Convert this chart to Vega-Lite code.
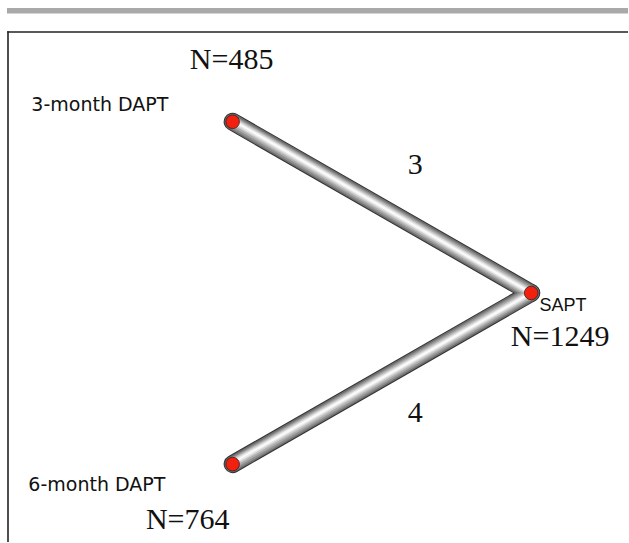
{
  "$schema": "https://vega.github.io/schema/vega-lite/v6.json",
  "width": 629,
  "height": 543,
  "padding": 0,
  "autosize": {"type": "fit", "contains": "padding"},
  "background": "white",
  "config": {"view": {"stroke": null}},
  "datasets": {
    "nodes": [
      {"node": "3-month DAPT", "x": 0, "y": 1, "n": 485},
      {"node": "SAPT", "x": 1, "y": 0, "n": 1249},
      {"node": "6-month DAPT", "x": 0, "y": -1, "n": 764}
    ],
    "edges": [
      {"from": "3-month DAPT", "to": "SAPT", "x": 0, "y": 1, "x2": 1, "y2": 0, "studies": 3},
      {"from": "6-month DAPT", "to": "SAPT", "x": 0, "y": -1, "x2": 1, "y2": 0, "studies": 4}
    ],
    "labels": [
      {"text": "N=485", "kind": "serif", "x": -0.0033, "y": 1.3615},
      {"text": "N=1249", "kind": "serif", "x": 1.097, "y": -0.2595},
      {"text": "N=764", "kind": "serif", "x": -0.1505, "y": -1.3265},
      {"text": "3", "kind": "serif", "x": 0.612, "y": 0.7493},
      {"text": "4", "kind": "serif", "x": 0.612, "y": -0.7026},
      {"text": "3-month DAPT", "kind": "sans", "x": -0.4448, "y": 1.0991},
      {"text": "6-month DAPT", "kind": "sans", "x": -0.4548, "y": -1.1224},
      {"text": "SAPT", "kind": "small", "x": 1.107, "y": -0.0787}
    ],
    "frame": [
      {"side": "top", "x": -0.7552, "y": 1.5248, "x2": 1.3244, "y2": 1.5248},
      {"side": "left", "x": -0.7525, "y": 1.5295, "x2": -0.7525, "y2": -1.4548}
    ]
  },
  "encoding": {
    "x": {"type": "quantitative", "scale": {"domain": [-0.7793, 1.3244], "nice": false, "zero": false}, "axis": null},
    "y": {"type": "quantitative", "scale": {"domain": [-1.4548, 1.7114], "nice": false, "zero": false}, "axis": null}
  },
  "layer": [
    {
      "data": {"values": [{"part": "header bar"}]},
      "mark": {"type": "rect", "fill": "#a9a9a9"},
      "encoding": {
        "x": {"datum": -0.7559, "type": "quantitative"},
        "x2": {"datum": 1.3244},
        "y": {"datum": 1.6647, "type": "quantitative"},
        "y2": {"datum": 1.6327}
      }
    },
    {
      "data": {"name": "frame"},
      "mark": {"type": "rule", "stroke": "#222222", "strokeWidth": 1.6, "strokeCap": "butt"},
      "encoding": {
        "x": {"field": "x", "type": "quantitative"},
        "y": {"field": "y", "type": "quantitative"},
        "x2": {"field": "x2"},
        "y2": {"field": "y2"}
      }
    },
    {
      "data": {"name": "edges"},
      "layer": [
        {"mark": {"type": "rule", "strokeWidth": 18, "color": "#333333", "strokeCap": "round"}, "encoding": {"x": {"field": "x", "type": "quantitative"}, "y": {"field": "y", "type": "quantitative"}, "x2": {"field": "x2"}, "y2": {"field": "y2"}}},
        {"mark": {"type": "rule", "strokeWidth": 16, "color": "#6e6e6e", "strokeCap": "round"}, "encoding": {"x": {"field": "x", "type": "quantitative"}, "y": {"field": "y", "type": "quantitative"}, "x2": {"field": "x2"}, "y2": {"field": "y2"}}},
        {"mark": {"type": "rule", "strokeWidth": 13, "color": "#8e8e8e", "strokeCap": "round"}, "encoding": {"x": {"field": "x", "type": "quantitative"}, "y": {"field": "y", "type": "quantitative"}, "x2": {"field": "x2"}, "y2": {"field": "y2"}}},
        {"mark": {"type": "rule", "strokeWidth": 10, "color": "#adadad", "strokeCap": "round", "yOffset": -0.5}, "encoding": {"x": {"field": "x", "type": "quantitative"}, "y": {"field": "y", "type": "quantitative"}, "x2": {"field": "x2"}, "y2": {"field": "y2"}}},
        {"mark": {"type": "rule", "strokeWidth": 7, "color": "#cbcbcb", "strokeCap": "round", "yOffset": -1}, "encoding": {"x": {"field": "x", "type": "quantitative"}, "y": {"field": "y", "type": "quantitative"}, "x2": {"field": "x2"}, "y2": {"field": "y2"}}},
        {"mark": {"type": "rule", "strokeWidth": 4.5, "color": "#e6e6e6", "strokeCap": "round", "yOffset": -1.2}, "encoding": {"x": {"field": "x", "type": "quantitative"}, "y": {"field": "y", "type": "quantitative"}, "x2": {"field": "x2"}, "y2": {"field": "y2"}}},
        {"mark": {"type": "rule", "strokeWidth": 2, "color": "#fafafa", "strokeCap": "round", "yOffset": -1.4}, "encoding": {"x": {"field": "x", "type": "quantitative"}, "y": {"field": "y", "type": "quantitative"}, "x2": {"field": "x2"}, "y2": {"field": "y2"}}}
      ]
    },
    {
      "data": {"name": "nodes"},
      "mark": {"type": "circle", "size": 185, "fill": "#f2200f", "opacity": 1, "stroke": "#3a1a1a", "strokeWidth": 0.8},
      "encoding": {
        "x": {"field": "x", "type": "quantitative"},
        "y": {"field": "y", "type": "quantitative"}
      }
    },
    {
      "data": {"name": "labels"},
      "transform": [{"filter": "datum.kind == 'serif'"}],
      "mark": {"type": "text", "font": "Liberation Serif", "fontSize": 30, "color": "#111111", "align": "center", "baseline": "middle"},
      "encoding": {
        "x": {"field": "x", "type": "quantitative"},
        "y": {"field": "y", "type": "quantitative"},
        "text": {"field": "text"}
      }
    },
    {
      "data": {"name": "labels"},
      "transform": [{"filter": "datum.kind == 'sans'"}],
      "mark": {"type": "text", "font": "DejaVu Sans", "fontSize": 19, "color": "#111111", "align": "center", "baseline": "middle"},
      "encoding": {
        "x": {"field": "x", "type": "quantitative"},
        "y": {"field": "y", "type": "quantitative"},
        "text": {"field": "text"}
      }
    },
    {
      "data": {"name": "labels"},
      "transform": [{"filter": "datum.kind == 'small'"}],
      "mark": {"type": "text", "font": "Liberation Sans", "fontSize": 18, "color": "#111111", "align": "center", "baseline": "middle"},
      "encoding": {
        "x": {"field": "x", "type": "quantitative"},
        "y": {"field": "y", "type": "quantitative"},
        "text": {"field": "text"}
      }
    }
  ]
}
